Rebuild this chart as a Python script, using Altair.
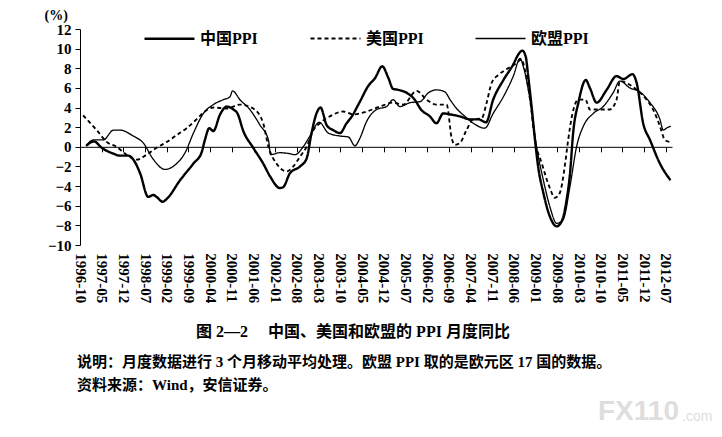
import altair as alt
import pandas as pd

# ---------------- data ----------------
series_names = ["中国PPI", "美国PPI", "欧盟PPI"]

# x-axis tick labels, one every 7 months starting 1996-10 (month index 0)
tick_labels = ["1996-10", "1997-05", "1997-12", "1998-07", "1999-02", "1999-09",
               "2000-04", "2000-11", "2001-06", "2002-01", "2002-08", "2003-03",
               "2003-10", "2004-05", "2004-12", "2005-07", "2006-02", "2006-09",
               "2007-04", "2007-11", "2008-06", "2009-01", "2009-08", "2010-03",
               "2010-10", "2011-05", "2011-12", "2012-07"]

# months since 1996-10, value in %
china_month = [2, 4.5, 7, 10.8, 12.9, 15.6, 17.2, 19.4, 22, 23.7, 24.7, 26.7, 28, 32.3,
               36.6, 39.2, 40.3, 41.7, 43, 45.2, 47.3, 49.5, 50.8, 52.7, 55.9, 59.1,
               61.3, 64.5, 65.6, 67.7, 71, 73.1, 74.7, 76.3, 77.6, 79.6, 81.7, 83.9,
               86, 87.5, 90.3, 93, 95.2, 97.5, 99.5, 101, 102.7, 105.4, 108, 110,
               112.9, 115, 117.2, 119.4, 122.6, 125.8, 128.5, 131, 133.3, 136.6,
               139.8, 141.4, 142.7, 143.8, 144.6, 145.7, 146.8, 147.8, 149.5, 151.6,
               153.8, 155.4, 157, 158.1, 159.1, 160.8, 163.2, 164.5, 166.7, 169.9,
               173.1, 175.3, 178.3, 179.6, 181.7, 183.9, 187.1, 190.5]
china_value = [0.1, 0.55, -0.1, -0.7, -0.9, -0.9, -1.3, -2.7, -5.1, -4.9, -5.1, -5.6, -5.3, -3.4,
               -1.7, -0.6, 0.7, 1.9, 1.6, 3.3, 4.1, 3.8, 3.4, 1.6, -0.1, -1.7,
               -3.0, -4.2, -4.1, -2.7, -2.0, -1.2, 1.4, 3.4, 4.0, 2.2, 1.7, 1.4,
               2.4, 3.0, 4.6, 6.2, 7.0, 8.2, 7.0, 5.9, 5.8, 5.5, 4.8, 3.8,
               3.1, 2.4, 3.4, 3.3, 3.1, 2.8, 2.8, 2.5, 4.8, 6.8,
               8.4, 9.4, 9.8, 9.2, 7.2, 4.1, 0.7, -2.0, -4.7, -7.1,
               -8.1, -7.6, -5.4, -2.7, 1.4, 4.5, 6.8, 6.0, 4.5, 5.8,
               7.2, 6.9, 7.4, 6.5, 2.4, 0.7, -1.7, -3.4]

us_month = [1, 5.4, 8.6, 11.8, 15, 18.3, 21.5, 24.7, 28, 31.2, 34.4, 37.6, 40.3, 43,
            47.3, 51.6, 55.9, 59.1, 60.8, 63.4, 66.7, 68.8, 71, 73.1, 75.3, 77.4,
            80.6, 84.9, 88.2, 92.5, 96.8, 101, 104.3, 108.6, 111.8, 115, 118.3,
            119.9, 121, 122.6, 124.7, 126.9, 129.6, 131.2, 132.8, 134.9, 137.6,
            140.3, 142.5, 143.5, 145.2, 146.8, 149, 151.6, 153.2, 154.8, 156.4,
            157.5, 158.9, 160.8, 163.1, 164.5, 167.2, 170.9, 173.1, 174.2, 176.3,
            179.6, 182.8, 184.9, 187.1, 188.7, 190.3]
us_value = [3.2, 1.7, 0.5, 0.0, -0.8, -1.3, -0.8, -0.1, 0.5, 1.2, 1.9, 2.8, 3.6, 4.0,
            3.9, 4.3, 3.9, 2.4, 0.0, -1.7, -2.5, -2.0, -1.0, 0.0, 1.7, 2.4,
            3.1, 3.6, 3.3, 3.6, 4.1, 4.5, 4.3, 5.7, 4.8, 4.3, 4.3,
            0.9, 0.2, 0.4, 1.7, 2.8, 2.9, 4.5, 6.5, 7.3, 7.9,
            8.4, 8.9, 7.9, 4.8, 0.7, -1.7, -4.2, -5.2, -4.7, -2.0,
            0.7, 3.4, 4.8, 4.8, 3.8, 3.8, 3.8, 4.8, 6.7, 6.5,
            5.8, 4.8, 3.8, 2.1, 0.7, 0.5]

eu_month = [2, 4.3, 7.5, 10.8, 12.9, 17.2, 20.4, 23.7, 27.4, 31.2, 33.9, 36.6, 39.8, 43,
            46.2, 48.4, 49.2, 51.6, 54.8, 58.1, 60.8, 61.5, 64.5, 67.7, 69.4, 72,
            74.2, 77.2, 80.1, 83.9, 86.6, 88.7, 90.2, 92.5, 95.7, 98.9, 101, 103.2,
            106.5, 109.7, 112.4, 115, 117.7, 119.4, 121.5, 124.2, 126.9, 130.6,
            133.3, 136.6, 139.8, 142, 143, 145.2, 147.3, 149.5, 151.6, 153.8,
            155.9, 158.1, 160.2, 162.4, 165.6, 168.8, 172, 174.2, 177.4, 180.6,
            183.9, 187.1, 188.2, 189.2, 190.6]
eu_value = [0.1, 0.7, 0.7, 1.7, 1.7, 1.1, 0.4, -1.3, -2.3, -1.7, -0.6, 1.4, 3.4, 4.3,
            4.8, 5.1, 5.7, 4.8, 3.8, 2.2, 0.7, -0.8, -0.6, -0.7, -0.8, 0.0,
            1.1, 2.5, 1.4, 1.1, 1.0, 0.1, 0.8, 2.6, 3.8, 4.1, 4.8, 4.1,
            4.5, 4.6, 5.5, 5.8, 5.6, 4.8, 3.9, 3.1, 2.4, 1.9,
            3.4, 5.1, 7.2, 9.0, 8.2, 4.8, 0.0, -3.4, -6.1, -7.8,
            -7.4, -4.0, 0.0, 2.1, 3.4, 4.1, 5.5, 6.7, 6.0, 5.6,
            4.5, 2.8, 1.7, 1.9, 2.1]

caption_text = "图 2—2\u3000 中国、美国和欧盟的 PPI 月度同比"
note_text = "说明：月度数据进行 3 个月移动平均处理。欧盟 PPI 取的是欧元区 17 国的数据。"
source_text = "资料来源：Wind，安信证券。"

# ---------------- build table ----------------
rows = []
for name, ms, vs in [(series_names[0], china_month, china_value),
                     (series_names[1], us_month, us_value),
                     (series_names[2], eu_month, eu_value)]:
    for m, v in zip(ms, vs):
        rows.append({"series": name, "month": m, "value": v})
df = pd.DataFrame(rows)

FONT = "Liberation Serif, Noto Sans CJK SC"
W, H = 592, 216
Y_MIN, Y_MAX = -10, 12

tick_values = [7 * i for i in range(len(tick_labels))]
label_expr = "[" + ",".join("'%s'" % t for t in tick_labels) + "][round(datum.value / 7)]"

legend = alt.Legend(
    orient="none", legendX=63, legendY=-17, direction="horizontal", columns=3,
    title=None, symbolType="stroke", symbolSize=2500, columnPadding=48,
    labelFont=FONT, labelFontSize=16, labelFontWeight="bold", labelColor="black",
    labelOffset=4, labelLimit=200,
)

lines = alt.Chart(df).mark_line(interpolate="monotone").encode(
    x=alt.X("month:Q",
            scale=alt.Scale(domain=[0, 191], nice=False, zero=False),
            axis=alt.Axis(values=tick_values, labelExpr=label_expr, labelAngle=90,
                          offset=-H * (0 - Y_MIN) / (Y_MAX - Y_MIN),
                          tickSize=5, labelPadding=101, grid=False, title=None,
                          domainColor="black", tickColor="black", labelColor="black",
                          labelFont=FONT, labelFontSize=15, labelFontWeight="bold",
                          labelOverlap=False, labelFlush=False)),
    y=alt.Y("value:Q",
            scale=alt.Scale(domain=[Y_MIN, Y_MAX], nice=False, zero=False),
            axis=alt.Axis(values=list(range(Y_MIN, Y_MAX + 1, 2)), grid=False,
                          tickSize=5, labelPadding=4,
                          domainColor="black", tickColor="black", labelColor="black",
                          labelFont=FONT, labelFontSize=15, labelFontWeight="bold",
                          title="(%)", titleAngle=0, titleX=-36, titleY=-14,
                          titleAlign="left", titleBaseline="middle",
                          titleFont=FONT, titleFontSize=14, titleFontWeight="bold",
                          titleColor="black")),
    color=alt.Color("series:N",
                    scale=alt.Scale(domain=series_names, range=["black", "black", "black"]),
                    legend=legend),
    strokeDash=alt.StrokeDash("series:N",
                              scale=alt.Scale(domain=series_names,
                                              range=[[1, 0], [4, 3], [1, 0]]),
                              legend=legend),
    strokeWidth=alt.StrokeWidth("series:N",
                                scale=alt.Scale(domain=series_names, range=[2.4, 1.3, 0.8]),
                                legend=legend),
)


def text_layer(txt, x, y, size, align="left", font=FONT, color="black", weight="bold"):
    return alt.Chart(pd.DataFrame({"t": [txt]})).mark_text(
        font=font, fontSize=size, fontWeight=weight, align=align,
        baseline="middle", color=color
    ).encode(text="t:N", x=alt.value(x), y=alt.value(y))


caption = text_layer(caption_text, 273, 303, 16, align="center")
note = text_layer(note_text, -3, 333, 15)
source = text_layer(source_text, -3, 356, 15)
wm1 = text_layer("FX110", 518, 383, 28, font="Liberation Sans", color="#dedede")
wm2 = text_layer(".com", 602, 388, 14, font="Liberation Sans", color="#dedede", weight="normal")

chart = alt.layer(lines, caption, note, source, wm1, wm2).properties(
    width=W, height=H,
    autosize=alt.AutoSizeParams(type="none"),
    padding={"left": 72, "top": 21, "right": 40, "bottom": 190},
).configure_view(stroke="transparent")

chart.save("out.html", embed_options={"renderer": "svg", "actions": False})
